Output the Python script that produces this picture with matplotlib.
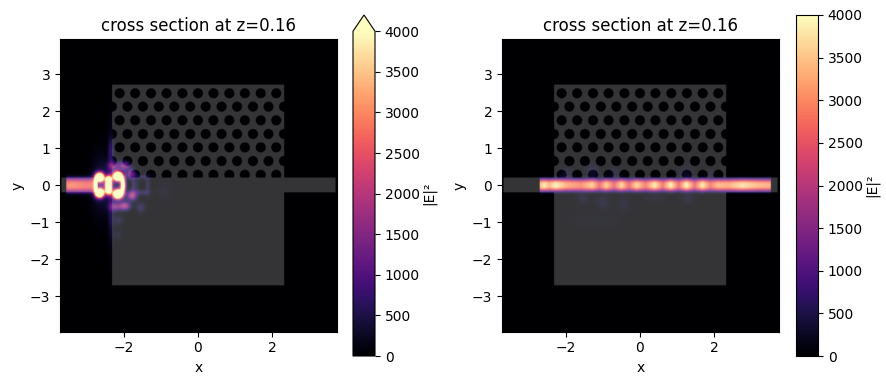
import numpy as np
import matplotlib
matplotlib.use("Agg")
import matplotlib.pyplot as plt

# hole rows of the photonic crystal
hole_rows_y = [2.48, 2.12, 1.75, 1.38, 1.02, 0.65, 0.28]
row_a_x = [-2.12, -1.70, -1.27, -0.85, -0.42, 0.0, 0.42, 0.85, 1.27, 1.70, 2.12]
row_b_x = [-2.33, -1.91, -1.49, -1.06, -0.64, -0.21, 0.21, 0.64, 1.06, 1.49, 1.91, 2.33]
hole_r = 0.135
slab_x = [-2.33, 2.33]
slab_y = [-2.71, 2.71]
wg_half = 0.2
wg_x = [-3.7, 3.72]

# left panel: field along the input strip
left_strip_x = [-3.57, -3.45, -3.2, -2.95, -2.72]
left_strip_v = [2700, 2900, 2800, 2600, 2500]

# left panel: bright spots (x, y, sx, sy, value)
left_spots = [
    (-2.66, 0.21, 0.08, 0.085, 8000), (-2.66, -0.21, 0.08, 0.085, 8000),
    (-2.77, 0.0, 0.03, 0.14, 3500),
    (-2.42, 0.0, 0.06, 0.14, 8000), (-2.42, 0.17, 0.06, 0.05, 2000), (-2.42, -0.17, 0.06, 0.05, 2000),
    (-2.17, 0.24, 0.085, 0.085, 9000), (-2.17, -0.24, 0.085, 0.085, 9000),
    (-2.03, 0.0, 0.05, 0.15, 5500),
    (-2.3, 0.52, 0.1, 0.08, 1300), (-2.0, 0.52, 0.11, 0.08, 1500),
    (-1.82, 0.3, 0.08, 0.09, 1400), (-1.79, -0.28, 0.09, 0.09, 1900),
    (-1.98, -0.56, 0.1, 0.08, 1900), (-2.24, -0.58, 0.11, 0.08, 1400),
    (-1.75, 0.0, 0.04, 0.18, 500),
    (-1.65, 0.0, 0.05, 0.2, 250), (-1.36, 0.0, 0.05, 0.2, 380),
    (-1.5, 0.22, 0.14, 0.05, 450), (-1.5, -0.2, 0.14, 0.05, 500),
    (-1.55, -0.6, 0.09, 0.1, 480), (-2.15, -0.95, 0.1, 0.1, 350),
    (-2.15, -1.35, 0.1, 0.1, 200), (-0.9, -0.15, 0.15, 0.2, 130),
    (-2.6, 0.0, 0.2, 0.55, 500), (-2.36, 0.0, 0.05, 1.1, 400),
    (-2.36, 0.95, 0.05, 0.22, 420), (-2.36, -0.9, 0.05, 0.3, 200),
]

# right panel: field along the waveguide
right_strip_x = [-2.72, -2.6, -2.45, -2.28, -2.0, -1.6, -1.29, -1.1, -0.91, -0.7, -0.5, -0.3,
                 -0.09, 0.15, 0.4, 0.62, 0.83, 1.05, 1.26, 1.48, 1.69, 1.9, 2.1, 2.4, 2.77, 3.2, 3.54]
right_strip_v = [3200, 3800, 3300, 3900, 3200, 2900, 3500, 2500, 3500, 2500, 3600, 2500,
                 3600, 2700, 3800, 2600, 3900, 2500, 3900, 2500, 3800, 2700, 3300, 3200, 3700, 3300, 3200]

# right panel: faint side lobes (x, y, sx, sy, value)
right_spots = [
    (-2.0, 0.3, 0.12, 0.12, 300), (-1.29, 0.38, 0.13, 0.16, 300), (-0.7, 0.32, 0.12, 0.12, 220),
    (1.26, 0.32, 0.15, 0.14, 240), (1.9, 0.28, 0.12, 0.1, 180), (-1.55, -0.35, 0.12, 0.12, 240),
    (-1.0, -0.45, 0.14, 0.14, 240), (-0.45, -0.5, 0.12, 0.16, 170), (1.3, -0.35, 0.15, 0.12, 200),
    (0.4, -0.35, 0.2, 0.1, 130), (-1.6, -0.9, 0.3, 0.2, 60), (-0.9, -1.0, 0.3, 0.2, 70),
]

vmax = 4000
xlim = (-3.73, 3.76)
ylim = (-3.96, 3.94)
W, H = 887.0, 385.0

gx = np.arange(xlim[0], xlim[1] + 0.01, 0.01)
gy = np.arange(ylim[0], ylim[1] + 0.01, 0.01)
X, Y = np.meshgrid(gx, gy)


def add_spots(field, spots):
    for sx0, sy0, sx, sy, val in spots:
        field += val * np.exp(-((X - sx0) / sx) ** 2 / 2 - ((Y - sy0) / sy) ** 2 / 2)
    return field


def strip_field(strip_x, strip_v, width):
    # flat-topped across the waveguide
    profile = np.interp(X, strip_x, strip_v, left=0, right=0)
    return profile * np.exp(-np.abs(Y / width) ** 3)


def structure_overlay():
    mask = (X >= slab_x[0]) & (X <= slab_x[1]) & (Y >= slab_y[0]) & (Y <= slab_y[1])
    for i, y0 in enumerate(hole_rows_y):
        xs = row_a_x if i % 2 == 0 else row_b_x
        for x0 in xs:
            mask &= (X - x0) ** 2 + (Y - y0) ** 2 > hole_r ** 2
    mask |= (np.abs(Y) <= wg_half) & (X >= wg_x[0]) & (X <= wg_x[1])
    rgba = np.ones(mask.shape + (4,))
    rgba[..., 3] = mask * 0.21
    return rgba


def draw_panel(ax, field):
    extent = (gx[0], gx[-1], gy[0], gy[-1])
    im = ax.imshow(field, origin="lower", extent=extent, cmap="magma", vmin=0, vmax=vmax,
                   interpolation="bilinear", aspect="equal")
    ax.imshow(structure_overlay(), origin="lower", extent=extent, interpolation="bilinear", aspect="equal")
    ax.set_xlim(xlim)
    ax.set_ylim(ylim)
    ax.set_xticks([-2, 0, 2])
    ax.set_yticks([-3, -2, -1, 0, 1, 2, 3])
    ax.set_xlabel("x")
    ax.set_ylabel("y")
    ax.set_title("cross section at z=0.16", fontsize=12)
    return im


def box(x0, y0, x1, y1):
    # pixel box, y counted from the top
    return [x0 / W, 1 - y1 / H, (x1 - x0) / W, (y1 - y0) / H]


left_field = strip_field(left_strip_x, left_strip_v, 0.19)
left_field = add_spots(left_field, left_spots)
right_field = strip_field(right_strip_x, right_strip_v, 0.16)
right_field = add_spots(right_field, right_spots)

fig = plt.figure(figsize=(8.87, 3.85), dpi=100)

ax1 = fig.add_axes(box(60, 39, 337, 332))
im1 = draw_panel(ax1, left_field)
cax1 = fig.add_axes(box(353, 15, 375, 356))
cb1 = fig.colorbar(im1, cax=cax1, extend="max")
cb1.set_ticks(np.arange(0, 4001, 500))
cb1.set_label("|E|²", labelpad=1.5)

ax2 = fig.add_axes(box(502, 39, 779, 332))
im2 = draw_panel(ax2, right_field)
cax2 = fig.add_axes(box(796, 15, 818, 356))
cb2 = fig.colorbar(im2, cax=cax2)
cb2.set_ticks(np.arange(0, 4001, 500))
cb2.set_label("|E|²", labelpad=1.5)

fig.savefig("out.png", dpi=100)
